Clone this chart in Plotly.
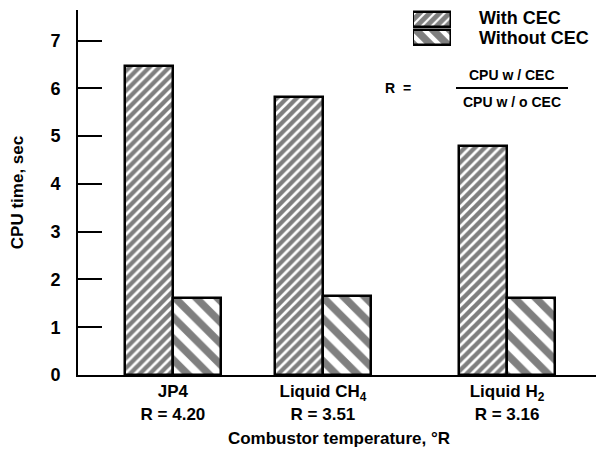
import plotly.graph_objects as go

categories = ["JP4", "Liquid CH<sub>4</sub>", "Liquid H<sub>2</sub>"]
ratio_labels = ["R = 4.20", "R = 3.51", "R = 3.16"]
with_cec = [6.47, 5.82, 4.79]
without_cec = [1.62, 1.66, 1.62]
series_names = ["With CEC", "Without CEC"]
y_ticks = [0, 1, 2, 3, 4, 5, 6, 7]

# layout constants (group centres on the category axis, irregular as in the original)
group_pos = [1.0, 2.0, 3.227]
bar_w = 0.32
FONT = "Liberation Sans, Arial, sans-serif"

PAT_WITH = dict(shape="/", fgcolor="black", bgcolor="white", size=7, solidity=0.62)
PAT_WITHOUT = dict(shape="\\", fgcolor="black", bgcolor="white", size=15, solidity=0.5)

fig = go.Figure()
fig.add_trace(go.Bar(
    x=group_pos, y=with_cec, width=bar_w, offset=-bar_w, name=series_names[0],
    marker=dict(color="white", line=dict(color="black", width=2.5), pattern=PAT_WITH),
    showlegend=False))
fig.add_trace(go.Bar(
    x=group_pos, y=without_cec, width=bar_w, offset=0, name=series_names[1],
    marker=dict(color="white", line=dict(color="black", width=2.5), pattern=PAT_WITHOUT),
    showlegend=False))

# legend swatches in a small inset axis
fig.add_trace(go.Bar(
    x=[1], y=[1], orientation="h", width=0.82, xaxis="x2", yaxis="y2", showlegend=False,
    marker=dict(color="white", line=dict(color="black", width=2.5),
                pattern=dict(shape="/", fgcolor="black", bgcolor="white", size=7, solidity=0.7)),
    hoverinfo="skip"))
fig.add_trace(go.Bar(
    x=[1], y=[0], orientation="h", width=0.82, xaxis="x2", yaxis="y2", showlegend=False,
    marker=dict(color="white", line=dict(color="black", width=2.5),
                pattern=dict(shape="\\", fgcolor="black", bgcolor="white", size=12, solidity=0.62)),
    hoverinfo="skip"))

ticktext = [f"{c}<br>{r}" for c, r in zip(categories, ratio_labels)]

# The page body adds an 8px offset, so the figure is sized to fill the rest of the window.
OFF = 8
W, H = 604 - OFF, 467 - OFF
PL, PR, PT, PB = 78, 600, 10, 375          # plot area in window pixels
L, R, T, B = PL - OFF, (W + OFF) - PR, PT - OFF, (H + OFF) - PB
PW, PH = PR - PL, PB - PT


def px(xp):
    return (xp - PL) / PW


def py(yp):
    return (PB - yp) / PH


fig.update_layout(
    width=W, height=H,
    margin=dict(l=L, r=R, t=T, b=B),
    paper_bgcolor="white", plot_bgcolor="white",
    font=dict(family=FONT, size=16, color="black", weight="bold"),
    xaxis=dict(range=[0.367, 3.847], tickvals=group_pos, ticktext=ticktext, automargin=False,
               showgrid=False, zeroline=False, showline=True, linecolor="black", linewidth=2,
               ticks="", tickfont=dict(size=17),
               title=dict(text="Combustor temperature, °R", font=dict(size=17), standoff=10)),
    yaxis=dict(range=[0, 7.64], tickvals=y_ticks, showgrid=False, zeroline=False, automargin=False,
               showline=True, linecolor="black", linewidth=2,
               ticks="inside", ticklen=24, tickwidth=2, tickcolor="black",
               tickfont=dict(size=18), ticklabelstandoff=12,
               title=dict(text="CPU time, sec", font=dict(size=17), standoff=22)),
    xaxis2=dict(domain=[px(413), px(451)], range=[0, 1], visible=False, anchor="y2"),
    yaxis2=dict(domain=[py(47), min(1.0, py(9))], range=[-0.5, 1.5], visible=False, anchor="x2"),
    bargap=0,
)

fig.add_annotation(text="With CEC", x=px(477), y=py(18), xref="paper", yref="paper",
                   showarrow=False, xanchor="left", yanchor="middle", font=dict(size=18))
fig.add_annotation(text="Without CEC", x=px(477), y=py(38), xref="paper", yref="paper",
                   showarrow=False, xanchor="left", yanchor="middle", font=dict(size=18))
fig.add_annotation(text="R  =", x=px(398), y=py(88), xref="paper", yref="paper",
                   showarrow=False, xanchor="center", yanchor="middle", font=dict(size=14))
fig.add_annotation(text="CPU w / CEC", x=px(512), y=py(75), xref="paper", yref="paper",
                   showarrow=False, xanchor="center", yanchor="middle", font=dict(size=14))
fig.add_annotation(text="CPU w / o CEC", x=px(512), y=py(102), xref="paper", yref="paper",
                   showarrow=False, xanchor="center", yanchor="middle", font=dict(size=14))
fig.add_shape(type="line", xref="paper", yref="paper", x0=px(456), x1=px(568),
              y0=py(88), y1=py(88), line=dict(color="black", width=2))

fig.write_html("out.html")
